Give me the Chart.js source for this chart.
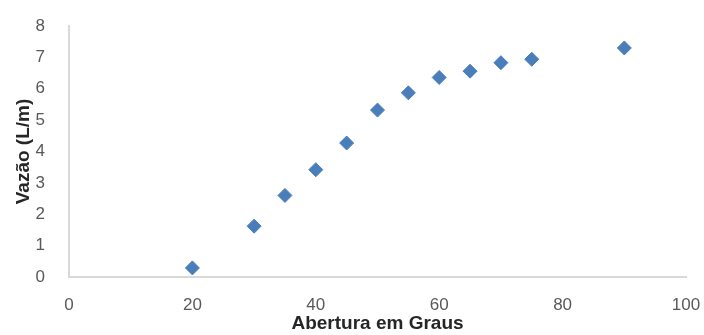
<!DOCTYPE html>
<html>
<head>
<meta charset="utf-8">
<script src="https://cdn.jsdelivr.net/npm/chart.js@4"></script>
<style>
  html, body { margin: 0; padding: 0; background: #fff; }
  #wrap { width: 704px; height: 335px; }
</style>
</head>
<body>
<div id="wrap"><canvas id="vazaoChart" width="704" height="335"></canvas></div>
<script>
// data
const abertura = [20, 30, 35, 40, 45, 50, 55, 60, 65, 70, 75, 90];
const vazao = [0.29, 1.62, 2.6, 3.42, 4.27, 5.32, 5.87, 6.36, 6.56, 6.83, 6.94, 7.3];
const xTicks = [0, 20, 40, 60, 80, 100];
const yTicks = [0, 1, 2, 3, 4, 5, 6, 7, 8];

const points = abertura.map((x, i) => ({ x: x, y: vazao[i] }));

const font = "'Liberation Sans', Arial, sans-serif";

new Chart(document.getElementById('vazaoChart').getContext('2d'), {
    type: 'scatter',
    data: {
        datasets: [{
            label: 'Vazão',
            data: points,
            pointStyle: 'rectRot',
            pointRadius: 7,
            pointHoverRadius: 7,
            backgroundColor: '#4A7EBB',
            borderColor: '#4A7EBB',
            borderWidth: 1
        }]
    },
    options: {
        responsive: false,
        animation: false,
        layout: {
            padding: { top: 26, right: 18, left: 12, bottom: 0 }
        },
        plugins: {
            legend: { display: false },
            tooltip: { enabled: false }
        },
        scales: {
            x: {
                type: 'linear',
                min: 0,
                max: 100,
                afterBuildTicks: function(scale) {
                    scale.ticks = xTicks.map(v => ({ value: v }));
                },
                afterFit: function(scale) {
                    scale.height = 58;
                    scale.paddingLeft = 0;
                    scale.paddingRight = 0;
                },
                grid: { display: false },
                border: { display: true, color: '#d9d9d9', width: 2 },
                ticks: {
                    color: '#595959',
                    font: { family: font, size: 17 },
                    padding: 10
                },
                title: {
                    display: true,
                    text: 'Abertura em Graus',
                    color: '#262626',
                    font: { family: font, size: 19, weight: 'bold' },
                    padding: { top: 5, bottom: 0 }
                }
            },
            y: {
                type: 'linear',
                min: 0,
                max: 8,
                afterBuildTicks: function(scale) {
                    scale.ticks = yTicks.map(v => ({ value: v }));
                },
                afterFit: function(scale) {
                    scale.width = 57;
                    scale.paddingTop = 0;
                    scale.paddingBottom = 0;
                },
                grid: { display: false },
                border: { display: true, color: '#d9d9d9', width: 2 },
                ticks: {
                    color: '#595959',
                    font: { family: font, size: 17 },
                    padding: 16
                },
                title: {
                    display: true,
                    text: 'Vazão (L/m)',
                    color: '#262626',
                    font: { family: font, size: 19, weight: 'bold' },
                    padding: { top: 0, bottom: 0 }
                }
            }
        }
    }
});
</script>
</body>
</html>
